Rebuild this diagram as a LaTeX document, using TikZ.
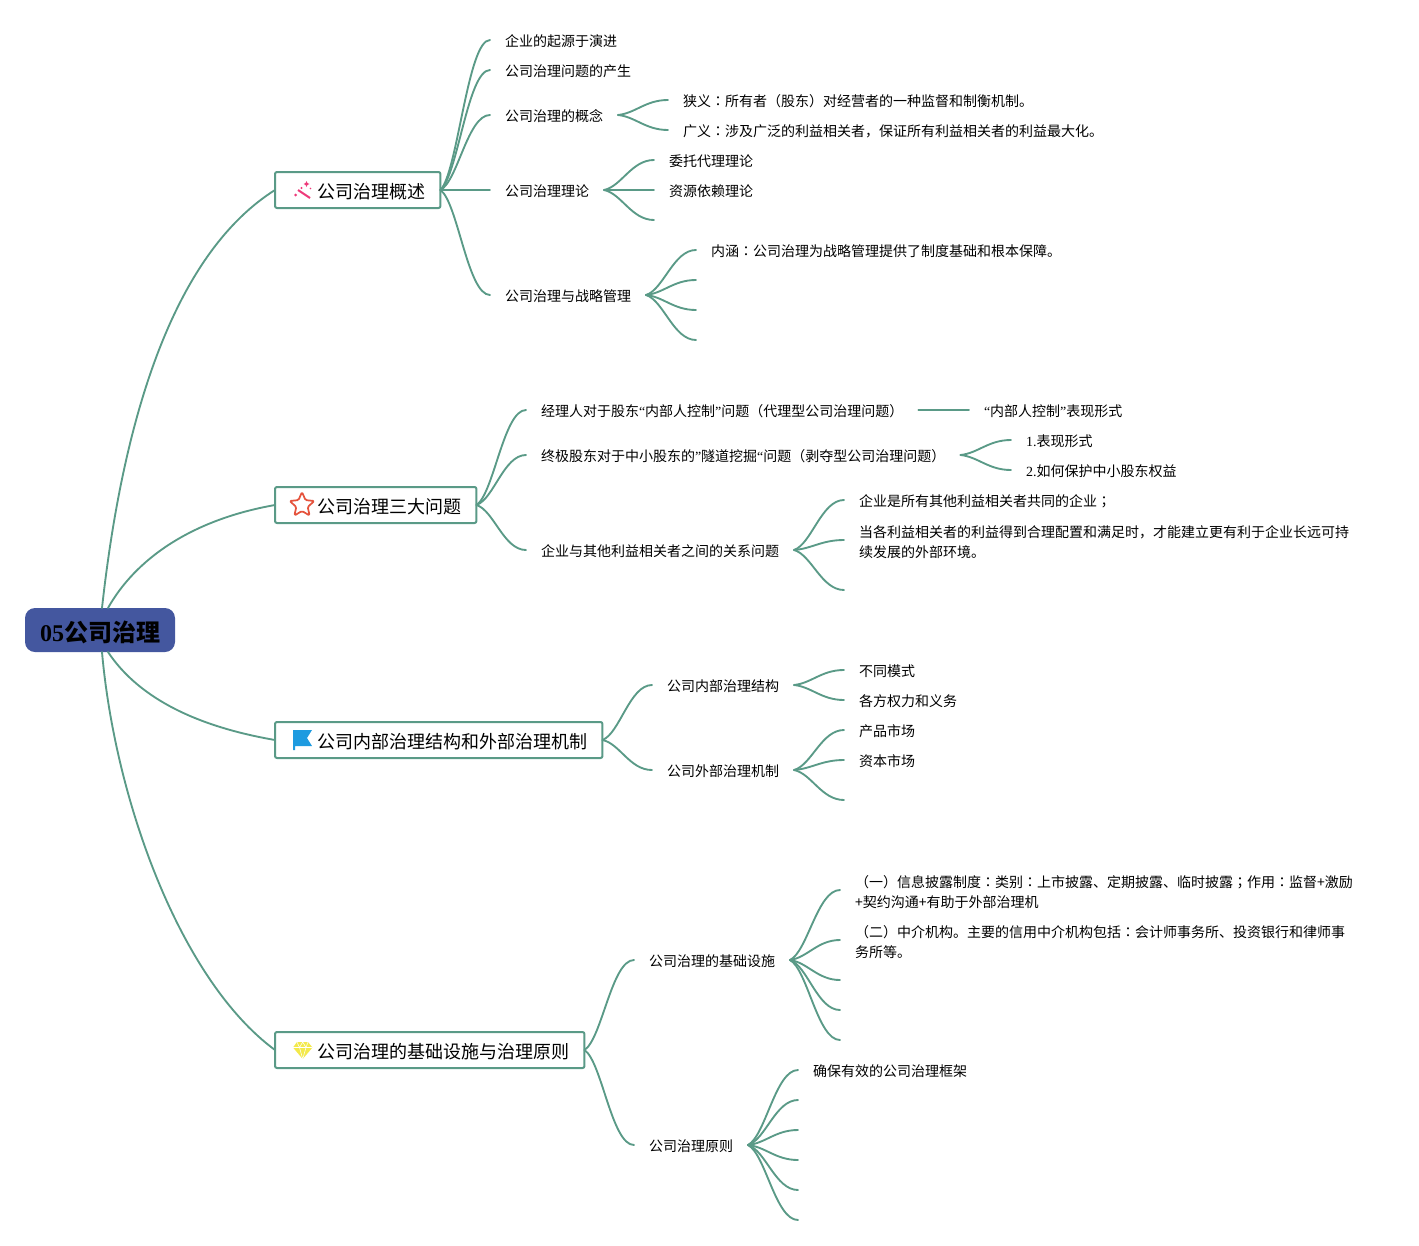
\documentclass[tikz,border=0pt]{standalone}
\usepackage{fontspec}
\usetikzlibrary{calc}
\setmainfont{Noto Sans CJK SC}
\newfontfamily\latf{Liberation Serif}
\newfontfamily\jpf{Noto Sans CJK JP}
\newcommand{\mycolon}{{\jpf ：}}
\newcommand{\mysemi}{{\jpf ；}}
\newcommand{\myoq}{{\latf “}}
\newcommand{\mycq}{{\latf ”}}
\newcommand{\firstline}{\rule{0pt}{11.5pt}}
\definecolor{linkc}{HTML}{5A9A87}
\definecolor{rootc}{HTML}{44579F}
\definecolor{wandc}{HTML}{EE3A7A}
\definecolor{starc}{HTML}{E5533D}
\definecolor{flagc}{HTML}{1E9BE0}
\definecolor{gemc}{HTML}{F3E94B}
\tikzset{
 link/.style={draw=linkc,line width=1.4pt,line cap=round},
 rootbox/.style={draw=none,fill=rootc,rounded corners=7.5pt,minimum width=112.5pt,minimum height=33pt,inner sep=0pt,outer sep=0pt,font=\fontsize{18}{22}\selectfont\bfseries,text height=19pt,text depth=2.4pt},
 topic/.style={draw=linkc,fill=white,line width=1.5pt,rounded corners=1.5pt,anchor=west,inner xsep=11.6pt,inner ysep=0pt,outer sep=0pt,minimum height=27pt,font=\fontsize{13.5}{16}\selectfont,text height=14.4pt,text depth=2pt},
 leaf/.style={anchor=west,inner xsep=11.25pt,inner ysep=0pt,outer sep=0pt,font=\fontsize{10.5}{15}\selectfont,text height=11.2pt,text depth=1.5pt},
 multi/.style={anchor=west,inner xsep=11.25pt,inner ysep=0pt,outer sep=0pt,font=\fontsize{10.5}{15}\selectfont,align=left},
}
\newcommand{\conn}[2]{\draw[link] let \p1=(#1),\p2=(#2) in (#1) .. controls ({\x1+0.35*(\x2-\x1)},{\y1+0.12*(\y2-\y1)}) and ({\x1+0.55*(\x2-\x1)},\y2) .. (#2);}
\begin{document}
\begin{tikzpicture}[x=0.75pt,y=-0.75pt]
\useasboundingbox (0,0) rectangle (1419,1245);
\node[rootbox] (root) at (100,630) {{\latf\bfseries 05}公司治理};
% topics
\node[topic] (t1) at (275,190) {\hspace{19.9pt}公司治理概述};
\node[topic] (t2) at (275,505) {\hspace{19.9pt}公司治理三大问题};
\node[topic] (t3) at (275,740) {\hspace{19.9pt}公司内部治理结构和外部治理机制};
\node[topic] (t4) at (275,1050) {\hspace{19.9pt}公司治理的基础设施与治理原则};
% root links
\draw[link] ([shift={(2,0)}]root.north) .. controls (125,400) and (180,250) .. (t1.west);
\draw[link] ([shift={(8,0)}]root.north) .. controls (135,560) and (190,520) .. (t2.west);
\draw[link] ([shift={(8,0)}]root.south) .. controls (140,700) and (200,727) .. (t3.west);
\draw[link] ([shift={(2,0)}]root.south) .. controls (115,800) and (180,980) .. (t4.west);
% branch 1
\node[leaf] (a1) at (490,40) {企业的起源于演进};
\node[leaf] (a2) at (490,70) {公司治理问题的产生};
\node[leaf] (a3) at (490,115) {公司治理的概念};
\node[leaf] (a4) at (490,190) {公司治理理论};
\node[leaf] (a5) at (490,295) {公司治理与战略管理};
\node[leaf] (a31) at (668,100) {狭义\mycolon 所有者（股东）对经营者的一种监督和制衡机制。};
\node[leaf] (a32) at (668,130) {广义\mycolon 涉及广泛的利益相关者，保证所有利益相关者的利益最大化。};
\node[leaf] (a41) at (654,160) {委托代理理论};
\node[leaf] (a42) at (654,190) {资源依赖理论};
\coordinate (a43) at (654,220);
\node[leaf] (a51) at (696,250) {内涵\mycolon 公司治理为战略管理提供了制度基础和根本保障。};
\coordinate (a52) at (696,280);
\coordinate (a53) at (696,310);
\coordinate (a54) at (696,340);
\foreach \c in {a1,a2,a3,a4,a5} {\conn{t1.east}{\c.west}}
\conn{a3.east}{a31.west}
\conn{a3.east}{a32.west}
\conn{a4.east}{a41.west}
\conn{a4.east}{a42.west}
\conn{a4.east}{a43}
\conn{a5.east}{a51.west}
\conn{a5.east}{a52}
\conn{a5.east}{a53}
\conn{a5.east}{a54}
% branch 2
\node[leaf] (b1) at (526,410) {经理人对于股东\myoq 内部人控制\mycq 问题（代理型公司治理问题）};
\node[leaf] (b2) at (526,455) {终极股东对于中小股东的\mycq 隧道挖掘\myoq 问题（剥夺型公司治理问题）};
\node[leaf] (b3) at (526,550) {企业与其他利益相关者之间的关系问题};
\node[leaf] (b11) at (969,410) {\myoq 内部人控制\mycq 表现形式};
\node[leaf] (b21) at (1011,440) {{\latf 1.}表现形式};
\node[leaf] (b22) at (1011,470) {{\latf 2.}如何保护中小股东权益};
\node[leaf] (b31) at (844,500) {企业是所有其他利益相关者共同的企业\mysemi};
\node[multi] (b32) at (844,540) {\firstline 当各利益相关者的利益得到合理配置和满足时，才能建立更有利于企业长远可持\\续发展的外部环境。};
\coordinate (b33) at (844,590);
\foreach \c in {b1,b2,b3} {\conn{t2.east}{\c.west}}
\conn{b1.east}{b11.west}
\conn{b2.east}{b21.west}
\conn{b2.east}{b22.west}
\conn{b3.east}{b31.west}
\conn{b3.east}{b32.west}
\conn{b3.east}{b33}
% branch 3
\node[leaf] (c1) at (652,685) {公司内部治理结构};
\node[leaf] (c2) at (652,770) {公司外部治理机制};
\node[leaf] (c11) at (844,670) {不同模式};
\node[leaf] (c12) at (844,700) {各方权力和义务};
\node[leaf] (c21) at (844,730) {产品市场};
\node[leaf] (c22) at (844,760) {资本市场};
\coordinate (c23) at (844,800);
\foreach \c in {c1,c2} {\conn{t3.east}{\c.west}}
\conn{c1.east}{c11.west}
\conn{c1.east}{c12.west}
\conn{c2.east}{c21.west}
\conn{c2.east}{c22.west}
\conn{c2.east}{c23}
% branch 4
\node[leaf] (d1) at (634,960) {公司治理的基础设施};
\node[leaf] (d2) at (634,1145) {公司治理原则};
\node[multi] (d11) at (840,890) {\firstline （一）信息披露制度\mycolon 类别\mycolon 上市披露、定期披露、临时披露\mysemi 作用\mycolon 监督+激励\\+契约沟通+有助于外部治理机};
\node[multi] (d12) at (840,940) {\firstline （二）中介机构。主要的信用中介机构包括\mycolon 会计师事务所、投资银行和律师事\\务所等。};
\coordinate (d13) at (840,980);
\coordinate (d14) at (840,1010);
\coordinate (d15) at (840,1040);
\node[leaf] (d21) at (798,1070) {确保有效的公司治理框架};
\coordinate (d22) at (798,1100);
\coordinate (d23) at (798,1130);
\coordinate (d24) at (798,1160);
\coordinate (d25) at (798,1190);
\coordinate (d26) at (798,1220);
\foreach \c in {d1,d2} {\conn{t4.east}{\c.west}}
\conn{d1.east}{d11.west}
\conn{d1.east}{d12.west}
\conn{d1.east}{d13}
\conn{d1.east}{d14}
\conn{d1.east}{d15}
\conn{d2.east}{d21.west}
\conn{d2.east}{d22}
\conn{d2.east}{d23}
\conn{d2.east}{d24}
\conn{d2.east}{d25}
\conn{d2.east}{d26}
% icon: wand and sparkles
\draw[draw=wandc,line width=1.5pt] (298,190) -- (310,198);
\fill[wandc] (306.5,181) -- (307.4,183) -- (309.5,184) -- (307.4,185) -- (306.5,187) -- (305.6,185) -- (303.5,184) -- (305.6,183) -- cycle;
\fill[wandc] (301.5,188) circle[radius=1.1];
\fill[wandc] (310.5,188.5) circle[radius=0.9];
\fill[wandc] (295.5,195) circle[radius=1.5];
% icon: star
\draw[draw=starc,fill=white,line width=1.3pt,line join=round,rounded corners=1pt]
 (302,492) -- (305.5,500.1) -- (314.4,501) -- (307.7,506.9) -- (309.6,515.5) -- (302,511) -- (294.4,515.5) -- (296.3,506.9) -- (289.6,501) -- (298.5,500.1) -- cycle;
% icon: flag
\fill[flagc] (293,730) -- (312,730) -- (307,738) -- (312,746) -- (295,746) -- (295,750) -- (293,750) -- cycle;
% icon: gem
\fill[gemc] (297,1042) -- (308,1042) -- (312.5,1047.5) -- (302.7,1059) -- (293,1047.5) -- cycle;
\draw[white,line width=0.4pt] (293,1047.5) -- (312.5,1047.5) (297,1042) -- (299.5,1047.5) -- (302.7,1042) -- (306,1047.5) -- (308,1042) (299.5,1047.5) -- (302.7,1059) -- (306,1047.5);
\end{tikzpicture}
\end{document}
